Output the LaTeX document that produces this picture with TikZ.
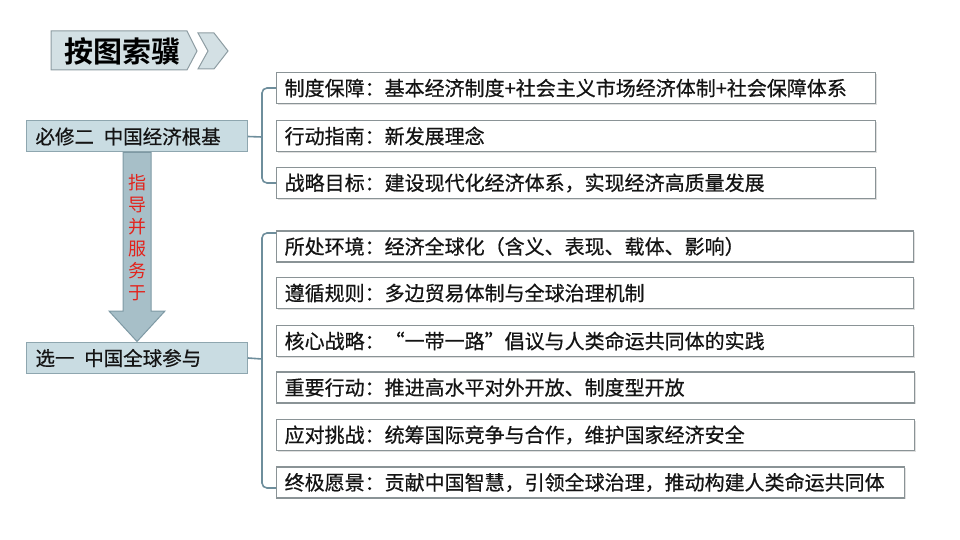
\documentclass[tikz,border=0pt]{standalone}
\usepackage{fontspec}
\setmainfont[FakeBold=0.6]{Noto Sans CJK SC}
\newfontfamily\cjkbold[BoldFont={Noto Sans CJK SC Bold}]{Noto Sans CJK SC}
\newfontfamily\cjkplain{Noto Sans CJK SC}
\usetikzlibrary{shadows}
\definecolor{leftfill}{HTML}{C9DCE2}
\definecolor{leftdraw}{HTML}{8EA6AF}
\definecolor{arrowfill}{HTML}{A7BFC8}
\definecolor{arrowdraw}{HTML}{7E99A4}
\definecolor{titlefill}{HTML}{D3E0E4}
\definecolor{titledraw}{HTML}{8D9CA2}
\definecolor{brace}{HTML}{6E8E9C}
\definecolor{boxdraw}{HTML}{8A9396}
\definecolor{redtext}{HTML}{E3221B}
\tikzset{
  itembox/.style={draw=boxdraw, line width=1.3pt, fill=white, rectangle, anchor=west,
    minimum height=31pt, inner xsep=8pt, inner ysep=0pt, align=left,
    font=\fontsize{20pt}{22pt}\selectfont, text=black!92,
    drop shadow={shadow xshift=1.2pt, shadow yshift=-1.2pt, opacity=0.25}},
  leftbox/.style={draw=leftdraw, line width=1pt, fill=leftfill, rectangle, anchor=west,
    minimum height=31pt, inner xsep=9pt, inner ysep=0pt, text width=203pt, align=left,
    font=\fontsize{19.5pt}{22pt}\selectfont, text=black!92},
  bracket/.style={draw=brace, line width=1.6pt, rounded corners=5pt}
}
\begin{document}
\begin{tikzpicture}[x=1pt,y=-1pt]
\useasboundingbox (0,0) rectangle (960,540);
% title
\draw[fill=titlefill, draw=titledraw, line width=1pt] (51,31) -- (187,31) -- (197,51) -- (187,70) -- (51,70) -- cycle;
\draw[fill=titlefill, draw=titledraw, line width=1pt] (198,33) -- (214,33) -- (228,51) -- (214,69) -- (198,69) -- (208,51) -- cycle;
\node[font=\cjkbold\bfseries\fontsize{29pt}{30pt}\selectfont, text=black] (title) at (122,51) {按图索骥};
% left boxes
\node[leftbox, minimum width=221pt] (L1) at (26,136.5) {必修二\hspace{0.5em}中国经济根基};
\node[leftbox, minimum width=221pt] (L2) at (26,358) {选一\hspace{0.5em}中国全球参与};
% arrow
\draw[fill=arrowfill, draw=arrowdraw, line width=1pt] (123,152.5) -- (151,152.5) -- (151,311) -- (165,311) -- (137,341.5) -- (109,311) -- (123,311) -- cycle;
\node[text=redtext, font=\cjkplain\fontsize{18pt}{22pt}\selectfont, align=center] (guide) at (137,238) {指\\导\\并\\服\\务\\于};
% group 1
\node[itembox, minimum width=599pt, text width=583pt] (a1) at (276,88) {制度保障：基本经济制度+社会主义市场经济体制+社会保障体系};
\node[itembox, minimum width=599pt, text width=583pt] (a2) at (276,136) {行动指南：新发展理念};
\node[itembox, minimum width=599pt, text width=583pt] (a3) at (276,183) {战略目标：建设现代化经济体系，实现经济高质量发展};
\coordinate (j1) at (262,137);
\draw[bracket] (a1.west) -| (j1) |- (a3.west);
\draw[bracket] (L1.east) -- (j1);
% group 2
\node[itembox, minimum width=637pt, text width=621pt] (b1) at (276,246.5) {所处环境：经济全球化（含义、表现、载体、影响）};
\node[itembox, minimum width=637pt, text width=621pt] (b2) at (276,293) {遵循规则：多边贸易体制与全球治理机制};
\node[itembox, minimum width=637pt, text width=621pt] (b3) at (276,341) {核心战略：“一带一路”倡议与人类命运共同体的实践};
\node[itembox, minimum width=638pt, text width=622pt] (b4) at (276,387.5) {重要行动：推进高水平对外开放、制度型开放};
\node[itembox, minimum width=638pt, text width=622pt] (b5) at (276,435) {应对挑战：统筹国际竞争与合作，维护国家经济安全};
\node[itembox, minimum width=628pt, text width=612pt] (b6) at (276,482.5) {终极愿景：贡献中国智慧，引领全球治理，推动构建人类命运共同体};
\coordinate (j2) at (262,359);
\coordinate (t2) at (276,233);
\coordinate (e2) at (276,488);
\draw[bracket] (t2) -| (j2) |- (e2);
\draw[bracket] (L2.east) -- (j2);
\end{tikzpicture}
\end{document}
